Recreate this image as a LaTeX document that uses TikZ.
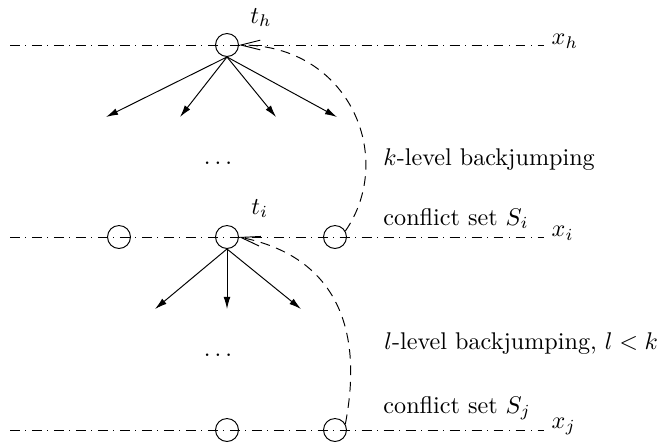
\documentclass[tikz,border=0pt]{standalone}
\usepackage{tikz}
\usetikzlibrary{arrows.meta,positioning}
\tikzset{
  var/.style={circle, draw, inner sep=0pt, minimum size=9.5pt},
  level/.style={dash pattern=on 4.1pt off 2.3pt on 0.4pt off 2.3pt},
  jump/.style={dash pattern=on 4pt off 2.8pt, -{Straight Barb[length=8pt,width=4pt]}},
  branch/.style={-{Latex[length=5pt,width=2.8pt]}},
  lbl/.style={anchor=base west, inner sep=0pt}
}
\newcommand\lev[1]{\ensuremath{x_{#1}}}

\begin{document}
\begin{tikzpicture}[x=0.414pt, y=-0.414pt, thin]
    \useasboundingbox (0,0) rectangle (661,442);

    % levels
    \coordinate (hl) at (10,45);   \coordinate (hr) at (544,45);
    \coordinate (il) at (10,237);  \coordinate (ir) at (544,237);
    \coordinate (jl) at (10,430);  \coordinate (jr) at (544,430);
    \draw[level] (hl) -- (hr);
    \draw[level] (il) -- (ir);
    \draw[level] (jl) -- (jr);
    \node (xh) [right=3pt of hr, inner sep=0pt, yshift=1.5pt] {\lev{h}};
    \node (xi) [right=3pt of ir, inner sep=0pt, yshift=1.5pt] {\lev{i}};
    \node (xj) [right=3pt of jr, inner sep=0pt, yshift=1.5pt] {\lev{j}};

    % variables
    \node[var] (th) at (227,45) {};
    \node[var] (ia) at (119,237) {};
    \node[var] (ti) at (227,237) {};
    \node[var] (ib) at (335,237) {};
    \node[var] (ja) at (227,430) {};
    \node[var] (jb) at (335,430) {};
    \node[lbl] at (250,23) {$t_h$};
    \node[lbl] at (251,214) {$t_i$};

    % branches
    \coordinate (h1) at (106,117);
    \coordinate (h2) at (180,117);
    \coordinate (h3) at (276,117);
    \coordinate (h4) at (337,117);
    \foreach \t in {h1,h2,h3,h4}
      \draw[branch] (th.south) -- (\t);
    \coordinate (i1) at (155,309);
    \coordinate (i2) at (227,309);
    \coordinate (i3) at (301,309);
    \foreach \t in {i1,i2,i3}
      \draw[branch] (ti.south) -- (\t);
    \node at (218,163) {$\ldots$};
    \node at (218,355) {$\ldots$};

    % backjumps
    \draw[jump] (ib.30) .. controls +(51,-74) and +(110,0) .. (th.east);
    \draw[jump] (jb.30) .. controls +(20,-104) and +(90,18) .. (ti.east);
    \node[lbl] at (383,165) {$k$-level backjumping};
    \node[lbl] at (383,225) {conflict set $S_i$};
    \node[lbl] at (384,349) {$l$-level backjumping, $l<k$};
    \node[lbl] at (383,413) {conflict set $S_j$};
\end{tikzpicture}
\end{document}
